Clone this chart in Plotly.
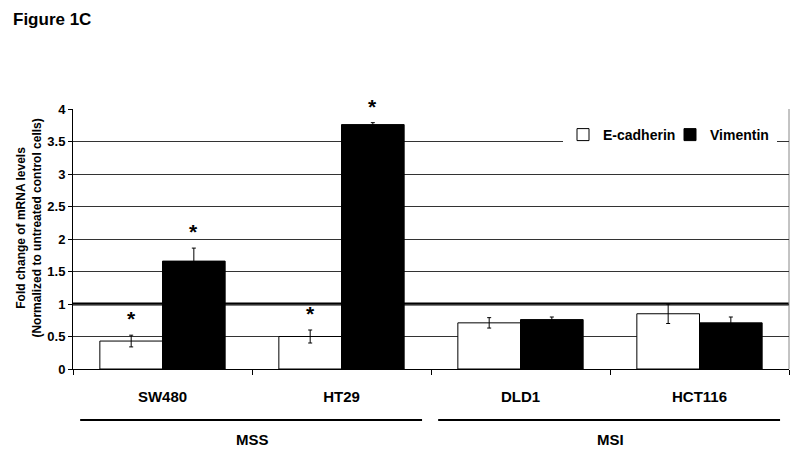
import plotly.graph_objects as go

# values
cell_lines = ['SW480', 'HT29', 'DLD1', 'HCT116']
ecad = [0.43, 0.50, 0.71, 0.85]
ecad_err = [0.09, 0.10, 0.08, 0.15]
vim = [1.66, 3.76, 0.76, 0.71]
vim_err = [0.20, 0.03, 0.04, 0.09]
ecad_sig = [True, True, False, False]
vim_sig = [True, True, False, False]
groups = ['MSS', 'MSI']
group_members = [[0, 1], [2, 3]]
y_ticks = [0, 0.5, 1, 1.5, 2, 2.5, 3, 3.5, 4]

FONT = 'Liberation Sans, Arial, sans-serif'
bargap = 0.3
half = (1 - bargap) / 4  # centre of each bar relative to category centre

fig = go.Figure()
fig.add_trace(go.Bar(
    x=cell_lines, y=ecad, name='E-cadherin',
    marker=dict(color='white', line=dict(color='black', width=1)),
    error_y=dict(type='data', array=ecad_err, color='black', thickness=1, width=2)))
fig.add_trace(go.Bar(
    x=cell_lines, y=vim, name='Vimentin',
    marker=dict(color='black', line=dict(color='black', width=1)),
    error_y=dict(type='data', array=vim_err, color='black', thickness=1, width=2)))

annotations = []
for i in range(len(cell_lines)):
    for sig, val, err, off in [(ecad_sig[i], ecad[i], ecad_err[i], -half),
                               (vim_sig[i], vim[i], vim_err[i], half)]:
        if sig:
            annotations.append(dict(x=i + off, y=val + err, xref='x', yref='y',
                                    text='*', showarrow=False, yanchor='bottom',
                                    yshift=3,
                                    font=dict(size=21, family=FONT, color='black')))

shapes = [
    # reference line at fold change = 1
    dict(type='line', xref='paper', yref='y', x0=0, x1=1, y0=1, y1=1,
         line=dict(color='black', width=3), layer='between'),
    # light frame on the right
    dict(type='line', xref='paper', yref='paper', x0=1, x1=1, y0=0, y1=1,
         line=dict(color='#888', width=1), layer='below'),
]
for name, members in zip(groups, group_members):
    x0 = members[0] - 0.46
    x1 = members[-1] + 0.45
    shapes.append(dict(type='line', xref='x', yref='paper', x0=x0, x1=x1,
                       y0=-0.196, y1=-0.196, line=dict(color='black', width=2)))
    annotations.append(dict(x=(members[0] + members[-1]) / 2, y=-0.273,
                            xref='x', yref='paper', text=name, showarrow=False,
                            yanchor='middle',
                            font=dict(size=15, family=FONT, color='black', weight='bold')))

# y-axis title, centred about 29 px from the page's left edge
annotations.append(dict(
    x=(29 - 73) / 716, y=0.54, xref='paper', yref='paper', showarrow=False,
    xanchor='center', yanchor='middle',
    text='Fold change of mRNA levels<br>(Normalized to untreated control cells)',
    textangle=-90, font=dict(size=12, family=FONT, color='black', weight='bold')))

fig.update_layout(
    width=800, height=451,
    margin=dict(l=73, r=11, t=109, b=82, autoexpand=False),
    paper_bgcolor='white', plot_bgcolor='white',
    font=dict(family=FONT, color='black', weight='bold'),
    title=dict(text='Figure 1C', x=13 / 800, xanchor='left', y=1 - 19 / 451,
               yanchor='middle', font=dict(size=17, family=FONT, color='black', weight='bold')),
    barmode='group', bargap=bargap, bargroupgap=0,
    legend=dict(orientation='h', x=(563 - 73) / 716, xanchor='left',
                y=(369 - 135) / 260, yanchor='middle', bgcolor='white',
                entrywidth=62, font=dict(size=14, family=FONT, color='black', weight='bold')),
    annotations=annotations, shapes=shapes,
)
fig.update_xaxes(showline=True, linecolor='black', linewidth=1, ticks='outside',
                 tickson='boundaries', ticklen=5, tickcolor='black', showgrid=False,
                 ticklabelstandoff=14,
                 tickfont=dict(size=15, family=FONT, color='black', weight='bold'))
fig.update_yaxes(range=[0, 4], tickvals=y_ticks, showline=True, linecolor='black',
                 linewidth=1, ticks='outside', ticklen=4, tickcolor='black',
                 showgrid=True, gridcolor='#333', gridwidth=1, zeroline=False,
                 tickfont=dict(size=13, family=FONT, color='black', weight='bold'))

# drop the page's default body margin so the 800x451 figure fills the window
fig.write_html("out.html", config={'displayModeBar': False},
               post_script="document.body.style.margin='0';")
